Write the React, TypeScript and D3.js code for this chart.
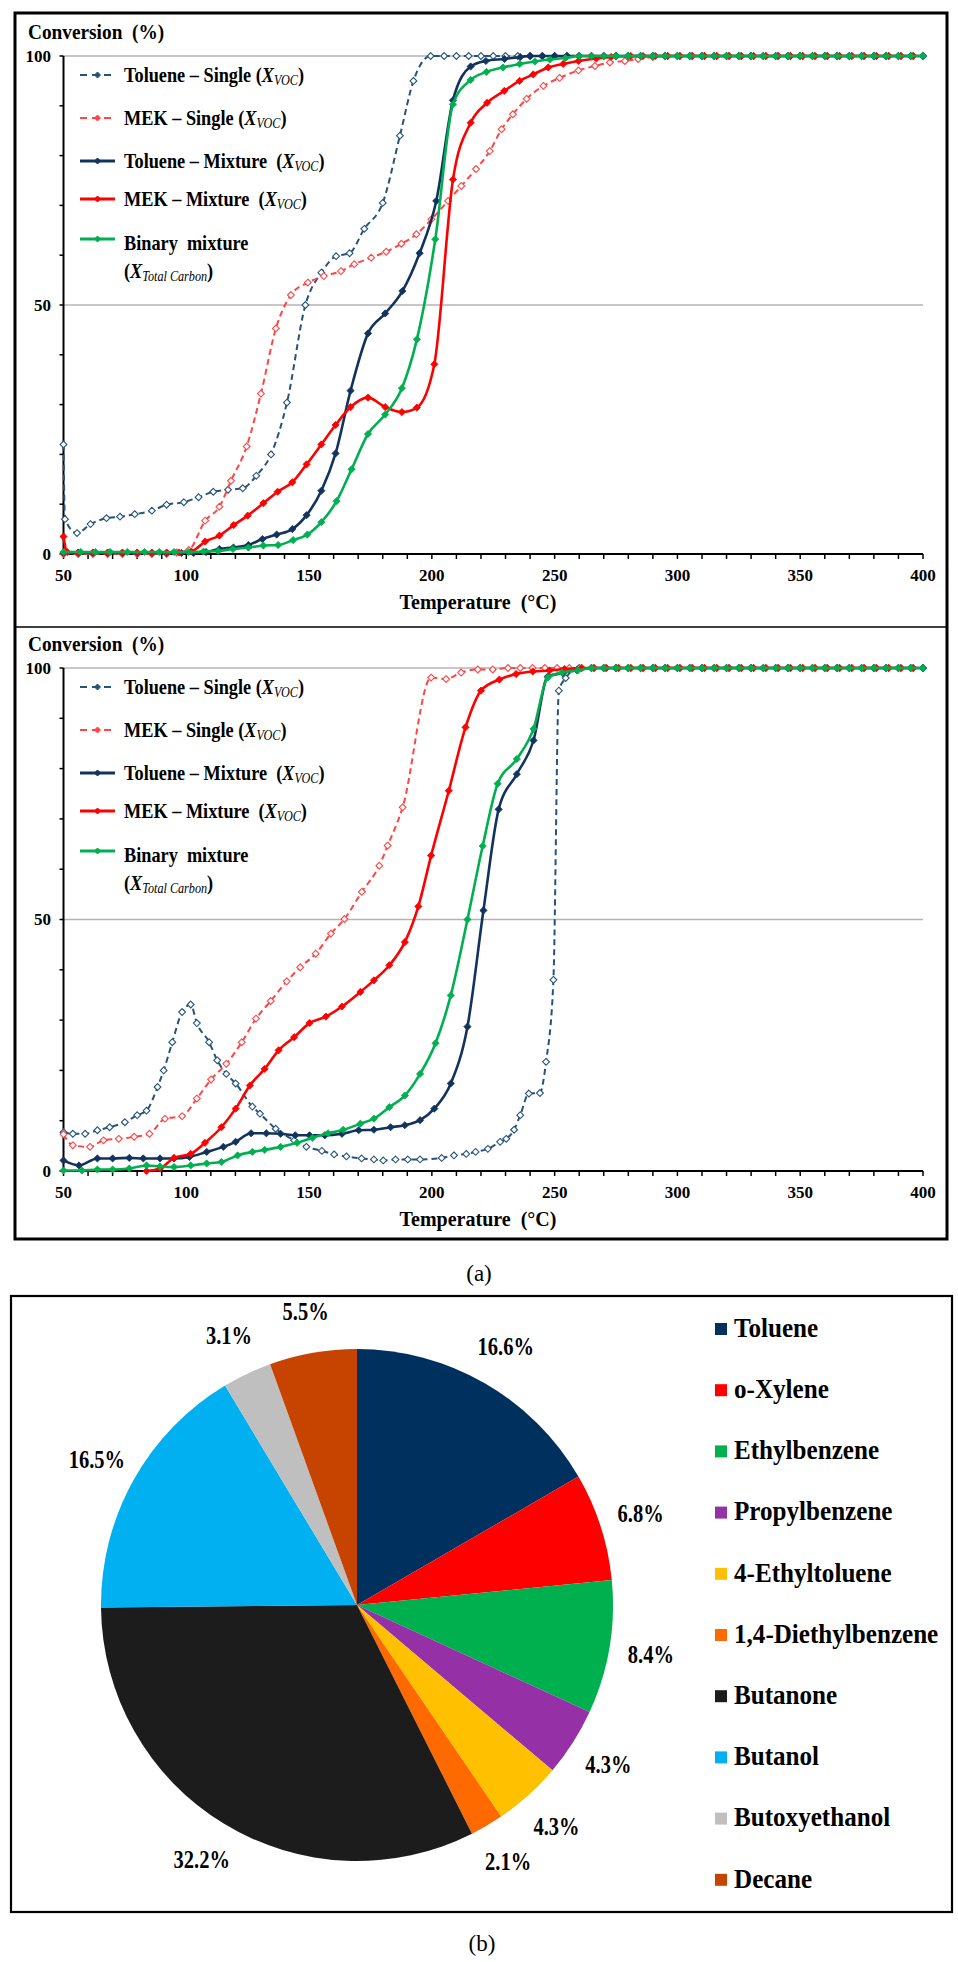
import React, { useEffect, useRef } from "react";
import * as d3 from "d3";

type Pt = [number, number];

// ---- panel (a), upper plot ----
const tolSingleA: Pt[] = [
  [50, 22], [50.6, 7], [55.5, 4.2], [61, 6], [67.5, 7.2], [73, 7.5], [79, 8], [86, 8.7], [92, 9.9], [99, 10.4],
  [105, 11.4], [111, 12.5], [117, 12.9], [123, 13.2], [128.5, 15.7], [134.5, 20], [141, 30.4], [148.5, 50],
  [155, 56.5], [161, 59.8], [166.5, 60.4], [172.5, 65.3], [180, 70.5], [187, 84], [192.5, 95], [199.5, 100],
  [205, 100], [210, 100], [215, 100], [220, 100], [225, 100], [230, 100], [235, 100], [240, 100], [245, 100],
  [250, 100], [255, 100], [260, 100], [265, 100], [270, 100], [275, 100], [280, 100], [285, 100], [290, 100],
  [295, 100], [300, 100], [305, 100], [310, 100], [315, 100], [320, 100], [325, 100], [330, 100], [335, 100],
  [340, 100], [345, 100], [350, 100], [355, 100], [360, 100], [365, 100], [370, 100], [375, 100], [380, 100],
  [385, 100], [390, 100], [395, 100], [400, 100],
];
const mekSingleA: Pt[] = [
  [50, 0], [56, 0], [62, 0], [68, 0], [74, 0], [80, 0], [86, 0], [92, 0], [96, 0.3], [101, 0.8], [107.7, 6.7],
  [113.5, 9.5], [118.2, 14.7], [124.6, 21.6], [130.4, 32.2], [136.5, 45.3], [142.6, 52], [149.5, 54.5],
  [156, 55.8], [163, 56.8], [168.4, 58.2], [175.3, 59.5], [181.4, 60.7], [187.6, 62.3], [193.7, 64.2],
  [199.8, 67.2], [206.6, 70.9], [212, 73.9], [218, 77.3], [223.6, 80.9], [228.4, 85.3], [233, 88.3],
  [238.6, 91.4], [245.4, 94], [252, 95.6], [259.7, 97.1], [266.4, 98], [272.5, 98.7], [278.6, 99], [284, 99.4],
  [290, 99.8], [296, 100], [301, 100], [306, 100], [311, 100], [316, 100], [321, 100], [326, 100], [331, 100],
  [336, 100], [341, 100], [346, 100], [351, 100], [356, 100], [361, 100], [366, 100], [371, 100], [376, 100],
  [381, 100], [386, 100], [391, 100], [396, 100],
];
const tolMixA: Pt[] = [
  [50, 0.2], [56, 0.2], [62, 0.2], [68, 0.2], [74, 0.2], [80, 0.2], [86, 0.2], [92, 0.2], [98, 0.2], [103, 0.2],
  [108, 0.4], [113.5, 1], [119.2, 1.3], [125.3, 1.8], [131, 3], [136.8, 3.9], [143.2, 5], [149, 7.8], [155, 12.7],
  [160.8, 20.2], [166.9, 32.8], [174, 44.3], [181, 48.3], [188, 52.8], [195, 60.4], [201.8, 70.9], [208.6, 91.1],
  [215.8, 97.9], [222, 99], [229.6, 99.4], [236, 99.8], [240, 100], [245, 100], [250, 100], [255, 100],
  [260, 100], [265, 100], [270, 100], [275, 100], [280, 100], [285, 100], [290, 100], [295, 100], [300, 100],
  [305, 100], [310, 100], [315, 100], [320, 100], [325, 100], [330, 100], [335, 100], [340, 100], [345, 100],
  [350, 100], [355, 100], [360, 100], [365, 100], [370, 100], [375, 100], [380, 100], [385, 100], [390, 100],
  [395, 100], [400, 100],
];
const mekMixA: Pt[] = [
  [50, 3.5], [51.5, 0.4], [56, 0.3], [62, 0.3], [68, 0.3], [74, 0.3], [80, 0.3], [86, 0.3], [92, 0.3], [97, 0.3],
  [102, 0.5], [107.7, 2.5], [113.5, 3.7], [119.3, 5.8], [125, 7.7], [131.4, 10.2], [137.2, 12.5], [143.2, 14.4],
  [149, 18], [155, 22], [160.8, 25.9], [166.9, 29.5], [174, 31.4], [181, 29.5], [187.8, 28.5], [193.9, 29.4],
  [201, 38.1], [208.6, 75.2], [215.8, 86.6], [222.5, 90.6], [229.5, 93], [235.7, 95], [241.3, 96.3],
  [247.4, 97.7], [253.5, 98.4], [259.7, 99], [267, 99.5], [273, 99.8], [281, 100], [286, 100], [291, 100],
  [296, 100], [301, 100], [306, 100], [311, 100], [316, 100], [321, 100], [326, 100], [331, 100], [336, 100],
  [341, 100], [346, 100], [351, 100], [356, 100], [361, 100], [366, 100], [371, 100], [376, 100], [381, 100],
  [386, 100], [391, 100], [396, 100],
];
const binA: Pt[] = [
  [50, 0.4], [57, 0.4], [63, 0.4], [69, 0.4], [76, 0.4], [83, 0.4], [89, 0.4], [95, 0.4], [101, 0.4], [107, 0.5],
  [113, 0.6], [119, 1], [125.3, 1.3], [131.4, 1.7], [137.4, 1.8], [143.5, 2.8], [149.3, 3.9], [155, 6.4],
  [161.2, 10.6], [167.3, 17], [174, 24.1], [181, 28], [187.8, 33.3], [193.9, 43.1], [201.4, 63.2], [208.6, 90.3],
  [215.8, 95.2], [222.2, 96.8], [229, 97.7], [235.8, 98.4], [242, 98.9], [248, 99.3], [254.4, 99.6], [260, 100],
  [265, 100], [270, 100], [275, 100], [280, 100], [285, 100], [290, 100], [295, 100], [300, 100], [305, 100],
  [310, 100], [315, 100], [320, 100], [325, 100], [330, 100], [335, 100], [340, 100], [345, 100], [350, 100],
  [355, 100], [360, 100], [365, 100], [370, 100], [375, 100], [380, 100], [385, 100], [390, 100], [395, 100],
  [400, 100],
];

// ---- panel (a), lower plot ----
const tolSingleB: Pt[] = [
  [50, 7.7], [53.8, 7.4], [58.8, 7.4], [63.8, 8.1], [68.8, 8.7], [75, 9.7], [80, 11.1], [83.8, 12], [88.3, 16.7],
  [90.8, 20], [94.3, 25.6], [98.3, 31.6], [101.8, 33.1], [104.3, 29.4], [109.3, 25.6], [112.6, 22], [116.3, 19.3],
  [120.1, 17.4], [126.9, 12.8], [130, 11.4], [136.4, 8.4], [143.9, 6.1], [148.9, 4.8], [155.2, 4], [160.2, 3.3],
  [165.2, 2.9], [171.4, 2.5], [176.4, 2.3], [180.2, 2.1], [185.2, 2.3], [190.2, 2.3], [195.2, 2.3], [204, 2.6],
  [209, 3.1], [214, 3.4], [217.8, 3.8], [222.8, 4.4], [227.8, 5.8], [230.3, 6.4], [233.5, 8.2], [236, 11.1],
  [239.5, 15.4], [244, 15.5], [246.5, 21.7], [249.5, 38], [251.7, 95.5], [254.5, 98], [260, 100], [265, 100],
  [270, 100], [275, 100], [280, 100], [285, 100], [290, 100], [295, 100], [300, 100], [305, 100], [310, 100],
  [315, 100], [320, 100], [325, 100], [330, 100], [335, 100], [340, 100], [345, 100], [350, 100], [355, 100],
  [360, 100], [365, 100], [370, 100], [375, 100], [380, 100], [385, 100], [390, 100], [395, 100], [400, 100],
];
const mekSingleB: Pt[] = [
  [50, 7.3], [53.8, 5.1], [60.8, 4.8], [66.3, 6.1], [72.5, 6.4], [78.8, 6.8], [85, 7.4], [91.3, 10.4], [98.3, 10.9],
  [104.3, 14.4], [110.1, 18.2], [116.3, 21.3], [122.6, 25.6], [128.4, 30.3], [134.4, 33.8], [140.9, 37.7],
  [146.4, 40.5], [152.7, 43.2], [158.9, 47.2], [164.4, 50.1], [171.5, 55.5], [178.6, 60.7], [182, 64.7],
  [188.1, 72.3], [199.7, 98.1], [205.8, 97.8], [211.9, 99.1], [218.7, 99.7], [224.8, 99.7], [231, 100],
  [236, 100], [241, 100], [246, 100], [251, 100], [256, 100], [261, 100], [266, 100], [271, 100], [276, 100],
  [281, 100], [286, 100], [291, 100], [296, 100], [301, 100], [306, 100], [311, 100], [316, 100], [321, 100],
  [326, 100], [331, 100], [336, 100], [341, 100], [346, 100], [351, 100], [356, 100], [361, 100], [366, 100],
  [371, 100], [376, 100], [381, 100], [386, 100], [391, 100], [396, 100],
];
const tolMixB: Pt[] = [
  [50, 2.1], [56.3, 1.1], [63.8, 2.5], [70, 2.5], [76.8, 2.6], [82.5, 2.5], [89.3, 2.5], [95, 2.5], [101.3, 2.8],
  [108.3, 3.8], [115.1, 4.8], [120.1, 5.8], [126.4, 7.5], [132.6, 7.5], [138.4, 7.4], [144.4, 7.1], [150.2, 7.1],
  [156.4, 7.1], [163.4, 7.4], [170.2, 8.1], [176.4, 8.2], [183.2, 8.7], [189, 9.1], [195.2, 10.1], [201, 12.4],
  [207.7, 17.4], [214.5, 28.7], [221, 51.8], [227.2, 71.9], [234.6, 78.9], [241.4, 85.6], [247.2, 98.3],
  [253.3, 99], [259, 99.6], [265, 100], [270, 100], [275, 100], [280, 100], [285, 100], [290, 100], [295, 100],
  [300, 100], [305, 100], [310, 100], [315, 100], [320, 100], [325, 100], [330, 100], [335, 100], [340, 100],
  [345, 100], [350, 100], [355, 100], [360, 100], [365, 100], [370, 100], [375, 100], [380, 100], [385, 100],
  [390, 100], [395, 100], [400, 100],
];
const mekMixB: Pt[] = [
  [83.8, 0], [89.3, 0.5], [95, 2.6], [101.8, 3.4], [107.6, 5.6], [114.3, 8.7], [120.1, 12.4], [125.9, 17],
  [131.9, 20.3], [137.6, 24], [143.9, 26.6], [150.2, 29.4], [156.9, 30.7], [163.4, 32.7], [170.9, 35.6],
  [176.4, 37.9], [182.7, 40.9], [189, 45.5], [194.5, 52.6], [199.7, 62.7], [206.9, 75.6], [213.7, 88.2],
  [220, 95.5], [227.5, 97.7], [234.3, 98.8], [241.1, 99.3], [247.9, 99.5], [254, 99.8], [261, 100], [266, 100],
  [271, 100], [276, 100], [281, 100], [286, 100], [291, 100], [296, 100], [301, 100], [306, 100], [311, 100],
  [316, 100], [321, 100], [326, 100], [331, 100], [336, 100], [341, 100], [346, 100], [351, 100], [356, 100],
  [361, 100], [366, 100], [371, 100], [376, 100], [381, 100], [386, 100], [391, 100], [396, 100],
];
const binB: Pt[] = [
  [50, 0.1], [57.5, 0.1], [63.8, 0.3], [70, 0.3], [76.8, 0.5], [83.8, 1.1], [89.3, 0.9], [95, 0.8], [101.8, 1.1],
  [108.3, 1.5], [114.3, 1.8], [120.9, 3.1], [126.9, 3.8], [131.9, 4.2], [138.4, 4.8], [145.1, 5.6], [151.4, 6.6],
  [157.7, 7.5], [163.9, 8.2], [170.9, 9.4], [176.4, 10.4], [182.7, 12.7], [189, 15], [195.2, 19.3], [201.5, 25.4],
  [207.7, 34.9], [214.5, 50], [220.7, 64.6], [226.8, 77], [234.6, 81.9], [241.4, 87.9], [247.2, 98.1], [253, 99.1],
  [259.4, 99.5], [265, 100], [270, 100], [275, 100], [280, 100], [285, 100], [290, 100], [295, 100], [300, 100],
  [305, 100], [310, 100], [315, 100], [320, 100], [325, 100], [330, 100], [335, 100], [340, 100], [345, 100],
  [350, 100], [355, 100], [360, 100], [365, 100], [370, 100], [375, 100], [380, 100], [385, 100], [390, 100],
  [395, 100], [400, 100],
];

const xTickLabels = [50, 100, 150, 200, 250, 300, 350, 400];
const yTickLabels = [0, 50, 100];
const gridValues = [50, 100];

const seriesNames = ["Toluene \u2013 Single", "MEK \u2013 Single", "Toluene \u2013 Mixture ", "MEK \u2013 Mixture "];

// ---- panel (b) ----
const pieLabels = [
  "Toluene", "o-Xylene", "Ethylbenzene", "Propylbenzene", "4-Ethyltoluene",
  "1,4-Diethylbenzene", "Butanone", "Butanol", "Butoxyethanol", "Decane",
];
const pieValues = [16.6, 6.8, 8.4, 4.3, 4.3, 2.1, 32.2, 16.5, 3.1, 5.5];
const pieColors = [
  "#00305E", "#FF0000", "#00B04F", "#9530A6", "#FFC000",
  "#FF6A00", "#1C1C1C", "#00B0F0", "#BFBFBF", "#C74300",
];

const FONT = "'Liberation Serif', 'Times New Roman', serif";
const styles = [
  { color: "#26537B", dashed: true },
  { color: "#FF4545", dashed: true },
  { color: "#12335E", dashed: false },
  { color: "#FF0000", dashed: false },
  { color: "#00B050", dashed: false },
];

const diamond = (h: number) => `M0,${-h}L${h},0L0,${h}L${-h},0Z`;

const App = () => {
  const svgRef = useRef<SVGSVGElement | null>(null);

  useEffect(() => {
    const svg = d3.select(svgRef.current);
    svg.selectAll("*").remove();

    const txt = (
      x: number, y: number, s: string, size: number, sx = 1,
      anchor = "start", weight = "bold"
    ) =>
      svg
        .append("text")
        .attr("transform", `translate(${x},${y}) scale(${sx},1)`)
        .attr("text-anchor", anchor)
        .attr("dominant-baseline", "central")
        .attr("font-family", FONT)
        .attr("font-size", size)
        .attr("font-weight", weight)
        .style("white-space", "pre")
        .text(s);

    // frames
    svg.append("rect").attr("x", 15).attr("y", 13).attr("width", 932).attr("height", 1226)
      .attr("fill", "none").attr("stroke", "#000").attr("stroke-width", 3);
    svg.append("line").attr("x1", 15).attr("x2", 947).attr("y1", 627).attr("y2", 627)
      .attr("stroke", "#000").attr("stroke-width", 1.5);
    svg.append("rect").attr("x", 11).attr("y", 1296).attr("width", 941).attr("height", 616)
      .attr("fill", "none").attr("stroke", "#000").attr("stroke-width", 2.2);

    const drawPanel = (yTop: number, yBot: number, data: Pt[][]) => {
      const x = d3.scaleLinear().domain([50, 400]).range([63.5, 923]);
      const y = d3.scaleLinear().domain([0, 100]).range([yBot, yTop]);

      gridValues.forEach((v) =>
        svg.append("line").attr("x1", x(50)).attr("x2", x(400)).attr("y1", y(v)).attr("y2", y(v))
          .attr("stroke", "#b4b4b4").attr("stroke-width", 1.3)
      );

      // y axis + minor ticks
      svg.append("line").attr("x1", x(50)).attr("x2", x(50)).attr("y1", y(0)).attr("y2", y(100))
        .attr("stroke", "#000").attr("stroke-width", 2);
      d3.range(0, 101, 10).forEach((v) =>
        svg.append("line").attr("x1", x(50) - 4).attr("x2", x(50)).attr("y1", y(v)).attr("y2", y(v))
          .attr("stroke", "#000").attr("stroke-width", 1.5)
      );
      yTickLabels.forEach((v) => txt(51, y(v), String(v), 17, 1, "end"));

      // x axis + ticks every 10
      svg.append("line").attr("x1", x(50)).attr("x2", x(400)).attr("y1", y(0)).attr("y2", y(0))
        .attr("stroke", "#000").attr("stroke-width", 2.2);
      d3.range(50, 401, 10).forEach((t) =>
        svg.append("line").attr("x1", x(t)).attr("x2", x(t)).attr("y1", y(0)).attr("y2", y(0) + 5)
          .attr("stroke", "#000").attr("stroke-width", 1.5)
      );
      xTickLabels.forEach((t) => txt(x(t), yBot + 21, String(t), 17, 1, "middle"));

      txt(478, yBot + 48, "Temperature  (\u00B0C)", 20, 1, "middle");
      txt(28, yTop - 24, "Conversion  (%)", 21, 0.92);

      // series
      const line = d3.line<Pt>().x((d) => x(d[0])).y((d) => y(d[1])).curve(d3.curveMonotoneX);
      data.forEach((pts, i) => {
        const st = styles[i];
        svg.append("path").attr("d", line(pts)).attr("fill", "none").attr("stroke", st.color)
          .attr("stroke-width", st.dashed ? 2 : 2.6)
          .attr("stroke-dasharray", st.dashed ? "6,4" : null);
        svg.append("g").selectAll("path").data(pts).join("path")
          .attr("transform", (d) => `translate(${x(d[0])},${y(d[1])})`)
          .attr("d", diamond(st.dashed ? 3.4 : 3.6))
          .attr("fill", st.dashed ? "#fff" : st.color)
          .attr("stroke", st.color).attr("stroke-width", st.dashed ? 1.1 : 0.8);
      });

      // legend
      const rows = [yTop + 19, yTop + 62, yTop + 105, yTop + 143, yTop + 187];
      rows.forEach((cy, i) => {
        const st = styles[i];
        const ly = i === 4 ? cy - 4 : cy;
        svg.append("line").attr("x1", 80).attr("x2", 115).attr("y1", ly).attr("y2", ly)
          .attr("stroke", st.color).attr("stroke-width", st.dashed ? 2.2 : 3)
          .attr("stroke-dasharray", st.dashed ? "7,5" : null);
        svg.append("path").attr("transform", `translate(97.5,${ly})`).attr("d", diamond(3))
          .attr("fill", st.color).attr("stroke", st.color);
        if (i < 4) {
          const t = txt(124, cy, "", 21, 0.87);
          t.append("tspan").text(seriesNames[i] + " (");
          t.append("tspan").attr("font-style", "italic").text("X");
          t.append("tspan").attr("font-style", "italic").attr("font-weight", "normal")
            .attr("font-size", 14).attr("dy", 5).text("VOC");
          t.append("tspan").attr("dy", -5).text(")");
        } else {
          txt(124, cy, "Binary  mixture", 21, 0.87);
          const t = txt(124, cy + 28, "", 21, 0.87);
          t.append("tspan").text("(");
          t.append("tspan").attr("font-style", "italic").text("X");
          t.append("tspan").attr("font-style", "italic").attr("font-weight", "normal")
            .attr("font-size", 14).attr("dy", 5).text("Total Carbon");
          t.append("tspan").attr("dy", -5).text(")");
        }
      });
    };

    drawPanel(56, 554, [tolSingleA, mekSingleA, tolMixA, mekMixA, binA]);
    drawPanel(668, 1171, [tolSingleB, mekSingleB, tolMixB, mekMixB, binB]);

    txt(479, 1273, "(a)", 23, 1, "middle", "normal");

    // pie
    const cx = 357;
    const cy = 1605;
    const r = 256;
    const arcs = d3.pie<number>().sort(null).value((d) => d)(pieValues);
    const arc = d3.arc<d3.PieArcDatum<number>>().innerRadius(0).outerRadius(r);
    const labelArc = d3.arc<d3.PieArcDatum<number>>().innerRadius(298).outerRadius(298);
    const pg = svg.append("g").attr("transform", `translate(${cx},${cy})`);
    pg.selectAll("path").data(arcs).join("path")
      .attr("d", arc).attr("fill", (_, i) => pieColors[i]);
    arcs.forEach((a) => {
      const [lx, ly] = labelArc.centroid(a);
      txt(cx + lx, cy + ly, `${a.data.toFixed(1)}%`, 25, 0.82, "middle");
    });

    pieLabels.forEach((name, i) => {
      const ly = 1328 + i * 61.2;
      svg.append("rect").attr("x", 715).attr("y", ly - 5).attr("width", 12).attr("height", 12)
        .attr("fill", pieColors[i]);
      txt(734, ly, name, 27, 0.93);
    });

    txt(482, 1943, "(b)", 23, 1, "middle", "normal");
  }, []);

  return (
    <svg
      ref={svgRef}
      width={958}
      height={1962}
      style={{ position: "absolute", left: 0, top: 0, background: "#fff" }}
    />
  );
};

export default App;
